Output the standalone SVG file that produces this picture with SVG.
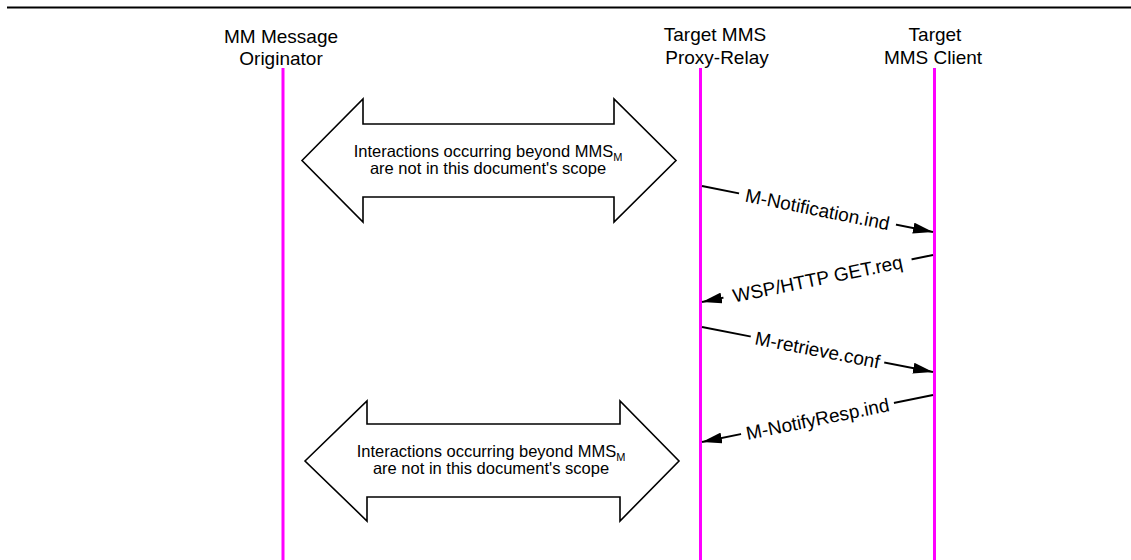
<svg xmlns="http://www.w3.org/2000/svg" width="1131" height="560" viewBox="0 0 1131 560">
<style>
text{font-family:"Liberation Sans",Arial,sans-serif;fill:#000}
.hdr{font-size:19px;text-anchor:middle}
.life{stroke:#FF00FF;stroke-width:3;fill:none}
.note{fill:#fff;stroke:#000;stroke-width:1.6;stroke-linejoin:miter}
.ntxt{font-size:16.5px;text-anchor:middle}
.sub{font-size:11px}
.msg{stroke:#000;stroke-width:1.8;fill:none;marker-end:url(#ah)}
.lbl{font-size:19px;text-anchor:middle}
.bg{fill:#fff}
</style>
<defs>
<marker id="ah" viewBox="0 0 20 11" refX="20" refY="5.5" markerWidth="20" markerHeight="11" markerUnits="userSpaceOnUse" orient="auto">
<path d="M0,0 L20,5.5 L0,11 Z" fill="#000"/>
</marker>
</defs>
<rect width="1131" height="560" fill="#fff"/>
<line x1="7" y1="7.5" x2="1131" y2="7.5" stroke="#000" stroke-width="2.2"/>

<g id="originator">
<text class="hdr" x="281" y="43">MM Message</text>
<text class="hdr" x="281" y="65">Originator</text>
<line class="life" x1="283" y1="68" x2="283" y2="560"/>
</g>
<g id="proxy-relay">
<text class="hdr" x="715" y="41">Target MMS</text>
<text class="hdr" x="717" y="64">Proxy-Relay</text>
<line class="life" x1="700.5" y1="68" x2="700.5" y2="560"/>
</g>
<g id="client">
<text class="hdr" x="935" y="41">Target</text>
<text class="hdr" x="933" y="64">MMS Client</text>
<line class="life" x1="934.5" y1="68" x2="934.5" y2="560"/>
</g>

<g id="scope-note-1">
<path class="note" d="M302,160.5 L363,99 L363,124 L614,124 L614,99 L676,160.5 L614,222 L614,197 L363,197 L363,222 Z"/>
<text class="ntxt" x="488" y="157">Interactions occurring beyond MMS<tspan class="sub" dy="4">M</tspan></text>
<text class="ntxt" x="488" y="174">are not in this document's scope</text>
</g>
<g id="scope-note-2">
<path class="note" d="M305,461 L367,401 L367,424 L620,424 L620,401 L679,461 L620,521 L620,497 L367,497 L367,521 Z"/>
<text class="ntxt" x="491" y="457">Interactions occurring beyond MMS<tspan class="sub" dy="4">M</tspan></text>
<text class="ntxt" x="491" y="474">are not in this document's scope</text>
</g>

<g id="connectors">
<g id="m-notification">
<line class="msg" x1="702" y1="186" x2="933" y2="232"/>
<g transform="translate(817.5,209) rotate(11.26)">
<rect class="bg" x="-80" y="-9" width="160" height="18"/>
<text class="lbl" x="0" y="7">M-Notification.ind</text>
</g>
</g>
<g id="wsp-get">
<line class="msg" x1="933" y1="255" x2="702" y2="302"/>
<g transform="translate(817.5,278.5) rotate(-11.5)">
<rect class="bg" x="-96" y="-9" width="192" height="18"/>
<text class="lbl" x="0" y="7">WSP/HTTP GET.req</text>
</g>
</g>
<g id="m-retrieve">
<line class="msg" x1="702" y1="327" x2="933" y2="372"/>
<g transform="translate(817.5,349.5) rotate(11.02)">
<rect class="bg" x="-68" y="-9" width="136" height="18"/>
<text class="lbl" x="0" y="7">M-retrieve.conf</text>
</g>
</g>
<g id="m-notifyresp">
<line class="msg" x1="933" y1="395" x2="702" y2="442"/>
<g transform="translate(817.5,418.5) rotate(-11.5)">
<rect class="bg" x="-78" y="-9" width="156" height="18"/>
<text class="lbl" x="0" y="7">M-NotifyResp.ind</text>
</g>
</g>
</g>
</svg>
